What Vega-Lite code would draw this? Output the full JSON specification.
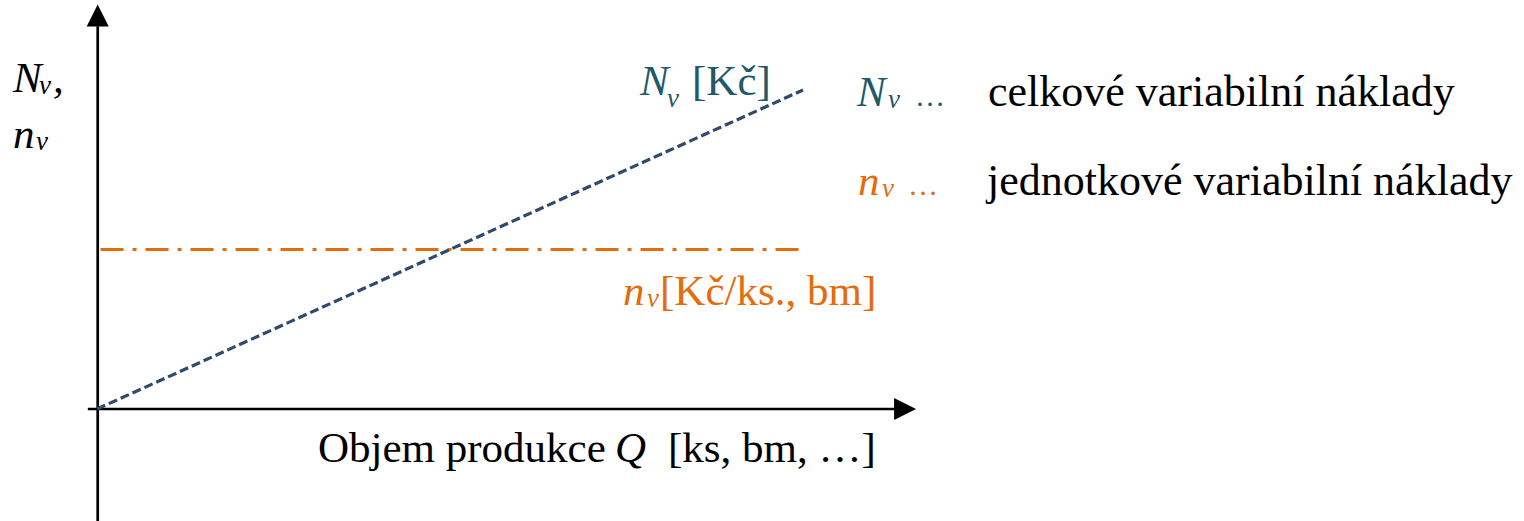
{
  "$schema": "https://vega.github.io/schema/vega-lite/v6.json",
  "width": 1524,
  "height": 521,
  "autosize": "none",
  "padding": 0,
  "background": "#ffffff",
  "config": {"view": {"stroke": null}, "font": "Liberation Serif"},
  "datasets": {
    "axes": [
      {"Q": -0.13, "N": 0, "Q2": 11.3, "N2": 0},
      {"Q": 0.01, "N": -3.6, "Q2": 0.01, "N2": 12.0}
    ],
    "arrows": [
      {"Q": 0.01, "N": 12.335, "dir": "up"},
      {"Q": 11.445, "N": 0, "dir": "right"}
    ],
    "total": [
      {"Q": 0, "N": 0},
      {"Q": 10, "N": 10}
    ],
    "unit": [
      {"Q": 0.05, "N": 5},
      {"Q": 10, "N": 5}
    ],
    "italics": [
      {"Q": -1.19, "N": 9.937, "text": "N", "series": "axis"},
      {"Q": -0.623, "N": 9.937, "text": ",", "series": "axis"},
      {"Q": -1.19, "N": 8.182, "text": "n", "series": "axis"},
      {"Q": 7.691, "N": 9.843, "text": "N", "series": "Nv"},
      {"Q": 10.765, "N": 9.498, "text": "N", "series": "Nv"},
      {"Q": 10.779, "N": 6.71, "text": "n", "series": "nv"},
      {"Q": 7.45, "N": 3.26, "text": "n", "series": "nv"},
      {"Q": 7.337, "N": -1.661, "text": "Q", "series": "axis"}
    ],
    "subscripts": [
      {"Q": -0.822, "N": 9.875, "text": "v", "series": "axis"},
      {"Q": -0.864, "N": 8.119, "text": "v", "series": "axis"},
      {"Q": 8.074, "N": 9.467, "text": "v", "series": "Nv"},
      {"Q": 11.204, "N": 9.436, "text": "v", "series": "Nv"},
      {"Q": 11.119, "N": 6.647, "text": "v", "series": "nv"},
      {"Q": 7.79, "N": 3.197, "text": "v", "series": "nv"}
    ],
    "words": [
      {"Q": 8.428, "N": 9.843, "text": "[Kč]", "series": "Nv"},
      {"Q": 7.975, "N": 3.26, "text": "[Kč/ks., bm]", "series": "nv"},
      {"Q": 3.13, "N": -1.661, "text": "Objem produkce", "series": "axis"},
      {"Q": 8.088, "N": -1.661, "text": "[ks, bm, …]", "series": "axis"}
    ],
    "legend": [
      {"Q": 12.62, "N": 9.498, "text": "celkové variabilní náklady", "series": "axis"},
      {"Q": 12.606, "N": 6.71, "text": "jednotkové variabilní náklady", "series": "axis"}
    ],
    "dots": [
      {"Q": 11.586, "N": 9.498, "text": "…", "series": "Nv"},
      {"Q": 11.487, "N": 6.71, "text": "…", "series": "nv"}
    ]
  },
  "encoding": {
    "x": {"field": "Q", "type": "quantitative", "scale": {"domain": [-1.374, 20.212], "nice": false, "zero": false}, "axis": null},
    "y": {"field": "N", "type": "quantitative", "scale": {"domain": [-3.511, 12.821], "nice": false, "zero": false}, "axis": null}
  },
  "layer": [
    {
      "data": {"name": "axes"},
      "mark": {"type": "rule", "color": "#000000", "strokeWidth": 2.7},
      "encoding": {"x2": {"field": "Q2"}, "y2": {"field": "N2"}}
    },
    {
      "data": {"name": "arrows"},
      "mark": {"type": "point", "filled": true, "opacity": 1, "color": "#000000", "size": 484, "strokeWidth": 0},
      "encoding": {
        "shape": {"field": "dir", "type": "nominal", "scale": {"domain": ["up", "right"], "range": ["M0,-1L1,1L-1,1Z", "M-1,-1L1,0L-1,1Z"]}, "legend": null}
      }
    },
    {
      "data": {"name": "unit"},
      "mark": {"type": "line", "color": "#E46C0A", "strokeWidth": 3, "strokeDash": [23, 9, 4, 9], "strokeCap": "butt"},
      "encoding": {}
    },
    {
      "data": {"name": "total"},
      "mark": {"type": "line", "color": "#2F4A6D", "strokeWidth": 3.2, "strokeDash": [9, 4], "strokeCap": "butt"},
      "encoding": {}
    },
    {
      "data": {"name": "italics"},
      "mark": {"type": "text", "font": "Liberation Serif", "align": "left", "baseline": "alphabetic", "fontStyle": "italic", "fontSize": 43},
      "encoding": {
        "text": {"field": "text"},
        "color": {"field": "series", "type": "nominal", "scale": {"domain": ["axis", "Nv", "nv"], "range": ["#000000", "#215968", "#E46C0A"]}, "legend": null}
      }
    },
    {
      "data": {"name": "subscripts"},
      "mark": {"type": "text", "font": "Liberation Serif", "align": "left", "baseline": "alphabetic", "fontStyle": "italic", "fontSize": 27},
      "encoding": {
        "text": {"field": "text"},
        "color": {"field": "series", "type": "nominal", "legend": null}
      }
    },
    {
      "data": {"name": "words"},
      "mark": {"type": "text", "font": "Liberation Serif", "align": "left", "baseline": "alphabetic", "fontSize": 43},
      "encoding": {
        "text": {"field": "text"},
        "color": {"field": "series", "type": "nominal", "legend": null}
      }
    },
    {
      "data": {"name": "legend"},
      "mark": {"type": "text", "font": "Liberation Serif", "align": "left", "baseline": "alphabetic", "fontSize": 44},
      "encoding": {
        "text": {"field": "text"},
        "color": {"field": "series", "type": "nominal", "legend": null}
      }
    },
    {
      "data": {"name": "dots"},
      "mark": {"type": "text", "font": "Liberation Serif", "align": "left", "baseline": "alphabetic", "fontSize": 30},
      "encoding": {
        "text": {"field": "text"},
        "color": {"field": "series", "type": "nominal", "legend": null}
      }
    }
  ]
}
